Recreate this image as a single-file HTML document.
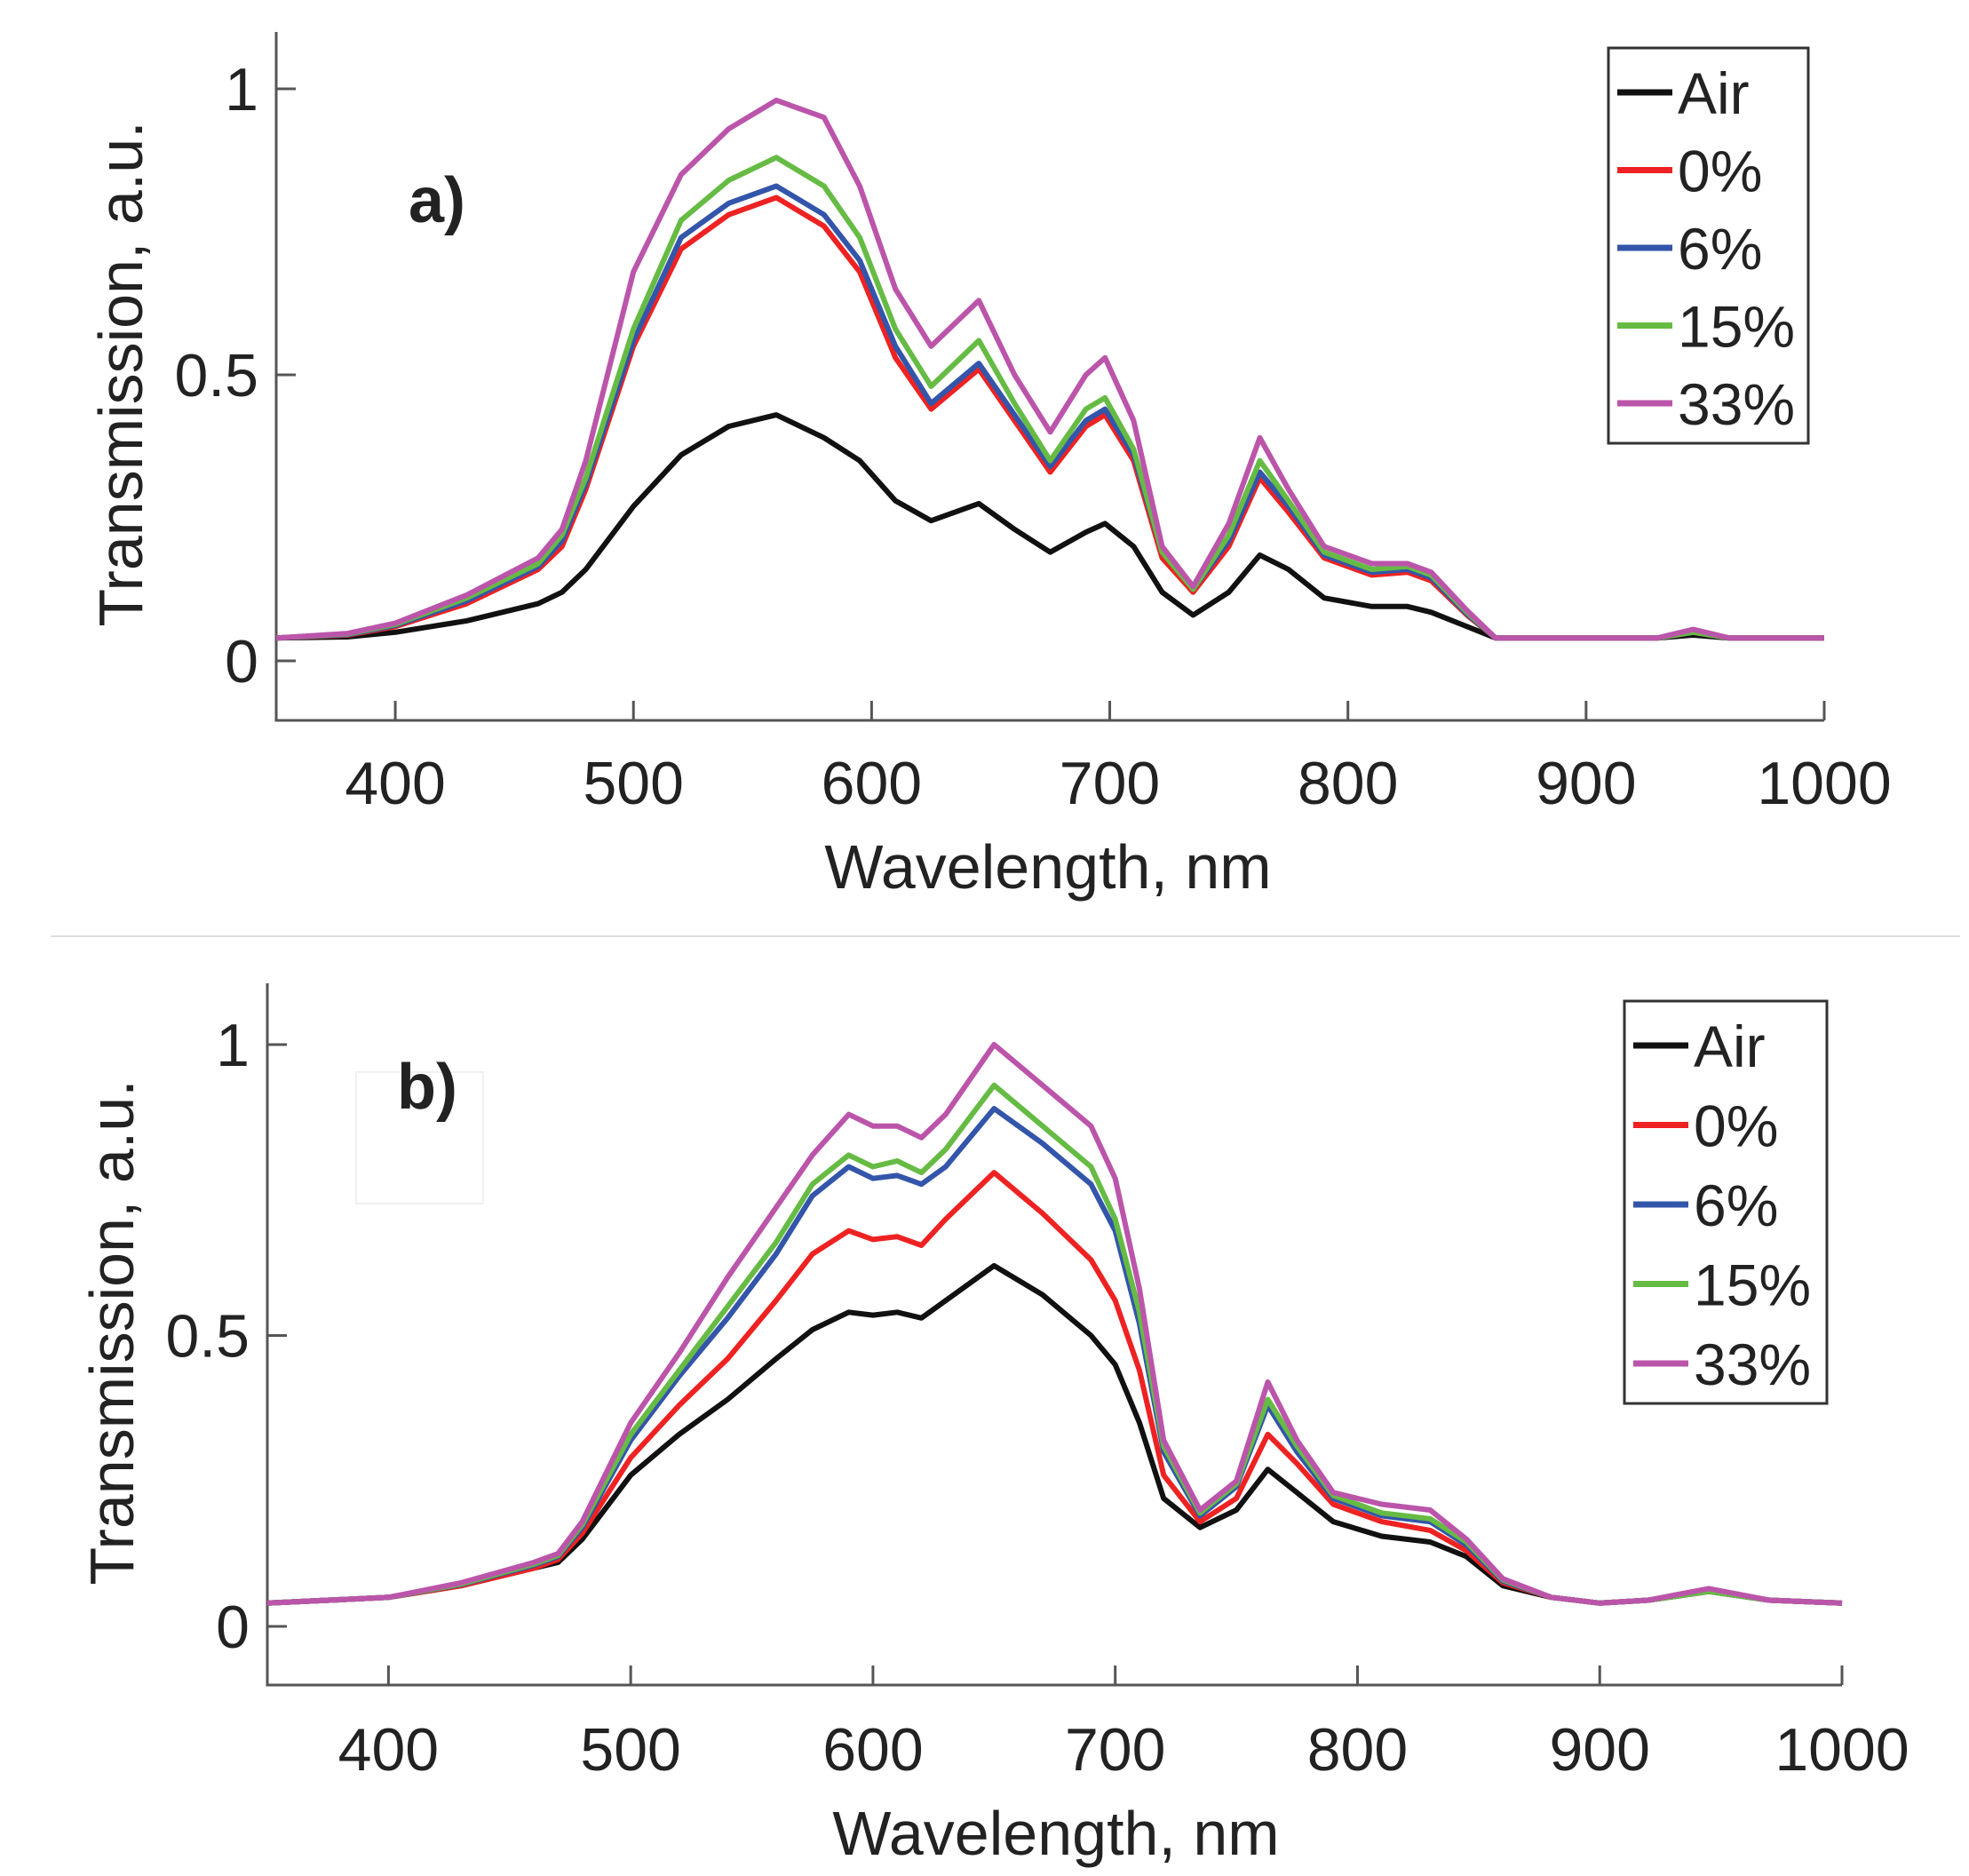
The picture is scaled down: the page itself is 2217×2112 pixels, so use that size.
<!DOCTYPE html>
<html><head><meta charset="utf-8"><style>
body{margin:0;background:#fff}
svg{display:block}
text{font-family:"Liberation Sans",sans-serif;fill:#222}
</style></head><body>
<svg id="s" width="2217" height="2112" viewBox="0 0 2217 2112">
<line x1="57" y1="1054" x2="2207" y2="1054" stroke="#ddd" stroke-width="2"/>
<rect x="401" y="1207" width="143" height="148" fill="none" stroke="#f0f0f0" stroke-width="2"/>
</svg>
<script>
const series = ['Air','0%','6%','15%','33%'];
const colors = ['#111111','#ee2222','#3355aa','#66bb44','#bb55aa'];
const xTicks = [400,500,600,700,800,900,1000];
const yTicks = [0,0.5,1];
const yTickLabels = ['0','0.5','1'];
const wlA = [350,380,400,430,460,470,480,500,520,540,560,580,595,610,625,645,660,675,690,698,710,722,735,750,763,775,790,810,825,835,850,862,900,930,945,960,1000];
const airA = [0.04,0.042,0.05,0.07,0.1,0.12,0.16,0.27,0.36,0.41,0.43,0.39,0.35,0.28,0.245,0.275,0.23,0.19,0.225,0.24,0.2,0.12,0.08,0.12,0.185,0.16,0.11,0.095,0.095,0.085,0.06,0.04,0.04,0.04,0.045,0.04,0.04];
const p0A = [0.04,0.045,0.06,0.1,0.16,0.2,0.3,0.55,0.72,0.78,0.81,0.76,0.68,0.53,0.44,0.51,0.42,0.33,0.41,0.43,0.35,0.18,0.12,0.2,0.32,0.26,0.18,0.15,0.155,0.14,0.08,0.04,0.04,0.04,0.05,0.04,0.04];
const p6A = [0.04,0.046,0.062,0.105,0.165,0.21,0.31,0.56,0.74,0.8,0.83,0.78,0.7,0.55,0.45,0.52,0.43,0.34,0.42,0.44,0.36,0.19,0.125,0.21,0.33,0.27,0.185,0.155,0.16,0.145,0.082,0.04,0.04,0.04,0.05,0.04,0.04];
const p15A = [0.04,0.047,0.064,0.11,0.17,0.22,0.32,0.58,0.77,0.84,0.88,0.83,0.74,0.58,0.48,0.56,0.45,0.35,0.44,0.46,0.37,0.19,0.125,0.22,0.35,0.28,0.19,0.16,0.165,0.15,0.085,0.04,0.04,0.04,0.05,0.04,0.04];
const p33A = [0.04,0.048,0.066,0.115,0.18,0.23,0.35,0.68,0.85,0.93,0.98,0.95,0.83,0.65,0.55,0.63,0.5,0.4,0.5,0.53,0.42,0.2,0.13,0.24,0.39,0.3,0.2,0.17,0.17,0.155,0.088,0.04,0.04,0.04,0.055,0.04,0.04];
const wlB = [350,400,430,460,470,480,500,520,540,560,575,590,600,610,620,630,650,670,690,700,710,720,735,750,763,775,790,810,830,845,860,880,900,920,945,970,1000];
const airB = [0.04,0.05,0.07,0.1,0.11,0.15,0.26,0.33,0.39,0.46,0.51,0.54,0.535,0.54,0.53,0.56,0.62,0.57,0.5,0.45,0.35,0.22,0.17,0.2,0.27,0.23,0.18,0.155,0.145,0.12,0.07,0.05,0.04,0.045,0.06,0.045,0.04];
const p0B = [0.04,0.05,0.07,0.1,0.115,0.16,0.29,0.38,0.46,0.56,0.64,0.68,0.665,0.67,0.655,0.7,0.78,0.71,0.63,0.56,0.44,0.26,0.18,0.22,0.33,0.28,0.21,0.18,0.165,0.13,0.075,0.05,0.04,0.045,0.06,0.045,0.04];
const p6B = [0.04,0.05,0.072,0.105,0.12,0.17,0.32,0.43,0.53,0.64,0.74,0.79,0.77,0.775,0.76,0.79,0.89,0.83,0.76,0.68,0.52,0.3,0.19,0.24,0.38,0.3,0.22,0.19,0.18,0.14,0.078,0.05,0.04,0.045,0.06,0.045,0.04];
const p15B = [0.04,0.05,0.073,0.107,0.122,0.175,0.33,0.44,0.55,0.66,0.76,0.81,0.79,0.8,0.78,0.82,0.93,0.86,0.79,0.7,0.54,0.31,0.195,0.245,0.39,0.31,0.225,0.195,0.185,0.145,0.08,0.05,0.04,0.045,0.06,0.045,0.04];
const p33B = [0.04,0.05,0.075,0.11,0.125,0.18,0.35,0.47,0.6,0.72,0.81,0.88,0.86,0.86,0.84,0.88,1.0,0.93,0.86,0.77,0.58,0.32,0.2,0.25,0.42,0.32,0.23,0.21,0.2,0.15,0.082,0.05,0.04,0.045,0.065,0.045,0.04];

const NS='http://www.w3.org/2000/svg';
const svg=document.getElementById('s');
function mk(tag,attrs,parent){const e=document.createElementNS(NS,tag);for(const k in attrs)e.setAttribute(k,attrs[k]);(parent||svg).appendChild(e);return e;}

function panel(P){
  const g=mk('g',{});
  
  
  const xs=v=>P.x0+(v-350)/650*(P.x1-P.x0);
  const ys=v=>P.yz+(P.yo-P.yz)*v;
  // axes
  const ax=mk('path',{d:`M${P.x0} ${P.top} V${P.bot} H${P.x1}`,fill:'none',stroke:'#555','stroke-width':3},g);
  
  
  xTicks.forEach(t=>{
    mk('line',{x1:xs(t),x2:xs(t),y1:P.bot,y2:P.bot-22,stroke:'#555','stroke-width':3},g);
    const tx=mk('text',{x:xs(t),y:P.xly,'font-size':68,'text-anchor':'middle'},g);
    tx.textContent=t;
    
    
  });
  yTicks.forEach((t,i)=>{
    mk('line',{x1:P.x0,x2:P.x0+22,y1:ys(t),y2:ys(t),stroke:'#555','stroke-width':3},g);
    const tx=mk('text',{x:P.x0-20,y:ys(t)+24,'font-size':68,'text-anchor':'end'},g);
    tx.textContent=yTickLabels[i];
    
    
  });
  const xl=mk('text',{x:P.xlx,y:P.xlt,'font-size':70,'text-anchor':'middle'},g);
  xl.textContent='Wavelength, nm';
  
  
  const yl=mk('text',{x:0,y:0,'font-size':70,'text-anchor':'middle',transform:`translate(${P.ylx},${P.yly}) rotate(-90)`},g);
  yl.textContent='Transmission, a.u.';
  
  
  const pl=mk('text',{x:P.plx,y:P.ply,'font-size':72,'font-weight':'bold'},g);
  pl.textContent=P.id+')';
  
  
  P.data.forEach((arr,i)=>{
    const d=arr.map((v,j)=>(j?'L':'M')+xs(P.wl[j]).toFixed(1)+' '+ys(v).toFixed(1)).join(' ');
    const p=mk('path',{d:d,fill:'none',stroke:colors[i],'stroke-width':6,'stroke-linejoin':'round'},g);
    
    
  });
  const lg=mk('g',{},g);
  
  
  mk('rect',{x:P.lx0,y:P.ly0,width:P.lx1-P.lx0,height:P.ly1-P.ly0,fill:'#fff',stroke:'#333','stroke-width':3},lg);
  series.forEach((s,i)=>{
    const y=P.ly0+50+i*(P.ly1-P.ly0-95)/4;
    mk('line',{x1:P.lx0+10,x2:P.lx0+72,y1:y,y2:y,stroke:colors[i],'stroke-width':7},lg);
    const t=mk('text',{x:P.lx0+78,y:y+24,'font-size':66},lg);
    t.textContent=s;
    
    
  });
}
panel({id:'a',x0:311,x1:2054,yz:744,yo:100,top:36,bot:811,xly:905,xlx:1180,xlt:1000,ylx:160,yly:421,plx:460,ply:250,
  wl:wlA,data:[airA,p0A,p6A,p15A,p33A],lx0:1811,lx1:2036,ly0:54,ly1:499});
panel({id:'b',x0:301,x1:2074,yz:1831,yo:1176,top:1107,bot:1897,xly:1993,xlx:1189,xlt:2088,ylx:150,yly:1500,plx:447,ply:1248,
  wl:wlB,data:[airB,p0B,p6B,p15B,p33B],lx0:1829,lx1:2057,ly0:1127,ly1:1580});
</script>
</body></html>
